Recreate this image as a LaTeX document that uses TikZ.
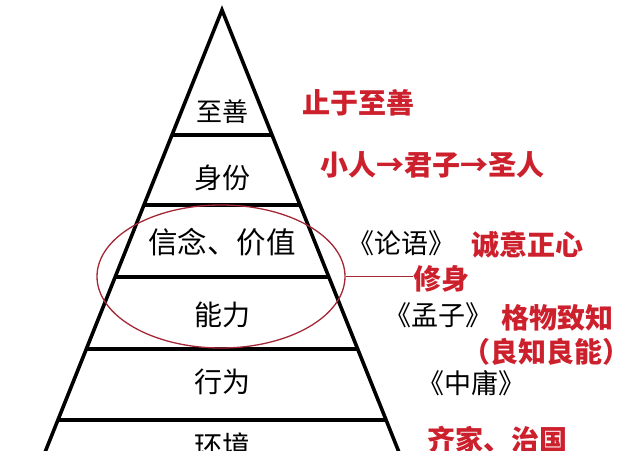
\documentclass[tikz,border=0pt]{standalone}
\usepackage{fontspec}
\usetikzlibrary{shapes.geometric}
\newfontfamily\cjk{Noto Sans CJK SC}
\definecolor{redtxt}{RGB}{205,32,45}
\definecolor{ellred}{RGB}{165,40,55}
\begin{document}
\begin{tikzpicture}[x=1pt,y=-1pt,
  layerline/.style={line width=3.6pt,black},
  lvl/.style={font=\cjk\fontsize{28}{30}\selectfont,inner sep=0pt},
  rtext/.style={font=\cjk\bfseries\fontsize{28}{30}\selectfont,text=redtxt,inner sep=0pt,anchor=west},
  btext/.style={font=\cjk\fontsize{27}{30}\selectfont,inner sep=0pt,anchor=west},
  link/.style={fill=ellred,draw=none}]
\useasboundingbox (0,0) rectangle (632,450);
% triangle
\coordinate (apex) at (222,10);
\coordinate (bl) at (41.5,461);
\coordinate (br) at (402.5,461);
\draw[layerline,line join=miter] (bl) -- (apex) -- (br);
\draw[layerline] (172,135) -- (272,135);
\draw[layerline] (144,205) -- (300,205);
\draw[layerline] (115,277) -- (329,277);
\draw[layerline] (86,349) -- (358,349);
\draw[layerline] (58,420) -- (386,420);
% level labels
\node[lvl,font=\cjk\fontsize{26}{28}\selectfont] (l1) at (222,112) {至善};
\node[lvl] (l2) at (222,178) {身份};
\node[lvl,font=\cjk\fontsize{29.5}{31}\selectfont] (l3) at (222,242) {信念、价值};
\node[lvl] (l4) at (222,315) {能力};
\node[lvl] (l5) at (222,382) {行为};
\node[lvl] (l6) at (222,446) {环境};
% ellipse
\node[draw=ellred,line width=1.3pt,ellipse,minimum width=248pt,minimum height=143pt,inner sep=0pt] (ell) at (221,276.5) {};
% right texts
\node[rtext] (t1) at (302,103) {止于至善};
\node[rtext] (t2) at (320,165) {小人→君子→圣人};
\node[btext] (t3) at (347,243) {《论语》};
\node[rtext] (t4) at (471,245) {诚意正心};
\node[rtext] (t5) at (413,279) {修身};
\node[btext] (t6) at (384,315) {《孟子》};
\node[rtext] (t7) at (501,318) {格物致知};
\node[rtext] (t8) at (462,352) {（良知良能）};
\node[btext] (t9) at (417,383) {《中庸》};
\node[rtext] (t10) at (427,440) {齐家、治国};
% connector from ellipse to 修身
\path[link] ([yshift=-0.9pt]ell.east) rectangle ([yshift=0.9pt]ell.east -| t5.west);
\end{tikzpicture}
\end{document}
